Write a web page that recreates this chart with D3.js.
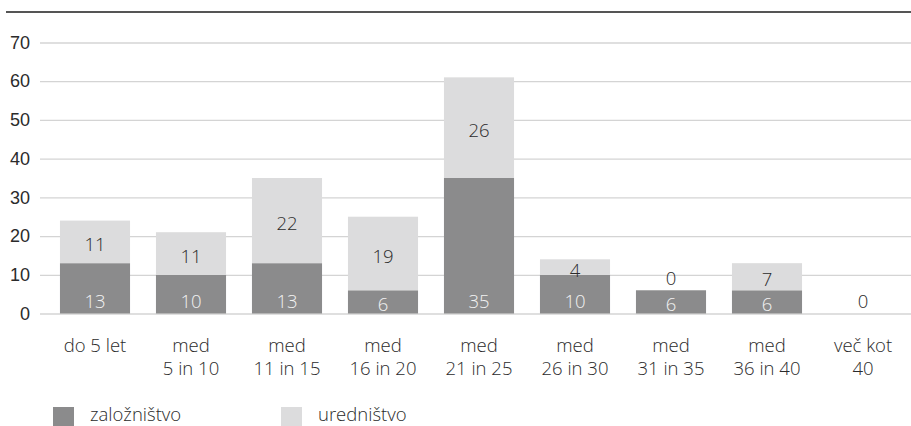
<!DOCTYPE html>
<html>
<head>
<meta charset="utf-8">
<script src="https://cdn.jsdelivr.net/npm/d3@7"></script>
<style>
  html, body { margin: 0; padding: 0; background: #fff; }
  svg { display: block; font-family: "Open Sans", "Noto Sans", sans-serif; font-weight: 300; }
</style>
</head>
<body>
<svg id="chart" width="911" height="426"></svg>
<script>
// Years of service, split by department
const categories = [
  ["do 5 let"],
  ["med", "5 in 10"],
  ["med", "11 in 15"],
  ["med", "16 in 20"],
  ["med", "21 in 25"],
  ["med", "26 in 30"],
  ["med", "31 in 35"],
  ["med", "36 in 40"],
  ["več kot", "40"]
];
const zaloznistvo = [13, 10, 13, 6, 35, 10, 6, 6, 0];
const urednistvo  = [11, 11, 22, 19, 26, 4, 0, 7, 0];
const seriesNames = ["založništvo", "uredništvo"];
const yTicks = [0, 10, 20, 30, 40, 50, 60, 70];

const colors = { dark: "#8b8b8c", light: "#dcdcdd" };
const textColor = "#2b2b2b";

const svg = d3.select("#chart");
const W = 911;

const x = d3.scaleBand()
  .domain(d3.range(categories.length))
  .range([47, 911])
  .paddingInner(0.27)
  .paddingOuter(0.135);

const y = d3.scaleLinear().domain([0, 70]).range([313.5, 42.5]);

// top rule
svg.append("line")
  .attr("x1", 6).attr("x2", W).attr("y1", 12).attr("y2", 12)
  .attr("stroke", "#555").attr("stroke-width", 2);

// y axis with gridlines
const yAxis = d3.axisLeft(y).tickValues(yTicks).tickSize(-(W - 40)).tickPadding(10);
const gy = svg.append("g").attr("transform", "translate(40,0)").call(yAxis);
gy.select(".domain").remove();
gy.selectAll(".tick line").attr("stroke", "#d4d4d4").attr("stroke-width", 1.3);
gy.selectAll(".tick text")
  .attr("fill", textColor).attr("font-size", 18).attr("font-family", "inherit");

// stacked data
const rows = categories.map((c, i) => ({ i, z: zaloznistvo[i], u: urednistvo[i] }));
const stack = d3.stack().keys(["z", "u"])(rows);
const fills = [colors.dark, colors.light];

const layers = svg.append("g");
stack.forEach((layer, k) => {
  layers.append("g").selectAll("rect")
    .data(layer)
    .join("rect")
    .attr("x", d => x(d.data.i))
    .attr("width", x.bandwidth())
    .attr("y", d => y(d[1]))
    .attr("height", d => y(d[0]) - y(d[1]))
    .attr("fill", fills[k]);
});

// value labels
const labels = svg.append("g").attr("font-size", 18.5).attr("text-anchor", "middle");
stack.forEach((layer, k) => {
  layer.forEach(d => {
    const v = d[1] - d[0];
    if (k === 0 && v === 0) return;
    const top = y(d[1]), bottom = y(d[0]);
    const mid = (top + bottom) / 2;
    let cy;
    if (v === 0) cy = Math.min(top - 9, bottom - 12);
    else if (k === 0) cy = Math.max(mid + 3, bottom - 12);
    else cy = mid + 3;
    labels.append("text")
      .attr("x", x(d.data.i) + x.bandwidth() / 2)
      .attr("y", cy)
      .attr("dy", "0.35em")
      .attr("fill", k === 0 ? "#f2f2f2" : textColor)
      .text(v);
  });
});

// category labels
const xl = svg.append("g").attr("font-size", 18.5).attr("text-anchor", "middle").attr("fill", textColor);
categories.forEach((lines, i) => {
  const t = xl.append("text").attr("x", x(i) + x.bandwidth() / 2).attr("y", 352);
  lines.forEach((ln, j) => {
    t.append("tspan").attr("x", x(i) + x.bandwidth() / 2).attr("dy", j === 0 ? 0 : 23).text(ln);
  });
});

// legend
const legendX = [53, 281];
const lg = svg.append("g").attr("font-size", 18.5).attr("fill", textColor);
seriesNames.forEach((name, k) => {
  lg.append("rect").attr("x", legendX[k]).attr("y", 407).attr("width", 21).attr("height", 20).attr("fill", fills[k]);
  lg.append("text").attr("x", legendX[k] + 37).attr("y", 421).text(name);
});
</script>
</body>
</html>
